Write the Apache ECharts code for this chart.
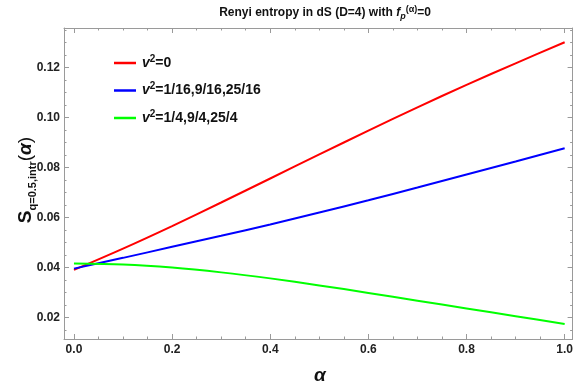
<!DOCTYPE html>
<html><head><meta charset="utf-8">
<script src="https://cdn.jsdelivr.net/npm/echarts@6/dist/echarts.min.js"></script>
<style>html,body{margin:0;padding:0;background:#fff}#c{width:576px;height:391px}</style>
</head><body><div id="c"></div>
<script>
// ---- data ----
const alpha = [0, 0.1, 0.2, 0.3, 0.4, 0.5, 0.6, 0.7, 0.8, 0.9, 1.0];
const redVals   = [0.0391, 0.0476, 0.0566, 0.0660, 0.0756, 0.0852, 0.0947, 0.1040, 0.1130, 0.1216, 0.1300];
const blueVals  = [0.0396, 0.0439, 0.0483, 0.0527, 0.0572, 0.0620, 0.0669, 0.0720, 0.0772, 0.0824, 0.0877];
const greenVals = [0.0416, 0.0412, 0.0400, 0.0381, 0.0357, 0.0329, 0.0299, 0.0268, 0.0237, 0.0206, 0.0175];
const seriesNames = ['v2=0', 'v2=1/16,9/16,25/16', 'v2=1/4,9/4,25/4'];
const legendRest = {'v2=0': '=0', 'v2=1/16,9/16,25/16': '=1/16,9/16,25/16', 'v2=1/4,9/4,25/4': '=1/4,9/4,25/4'};
const xMajor = [0, 0.2, 0.4, 0.6, 0.8, 1.0];
const xMinor = [0.05, 0.1, 0.15, 0.25, 0.3, 0.35, 0.45, 0.5, 0.55, 0.65, 0.7, 0.75, 0.85, 0.9, 0.95];
const yMajor = [0.02, 0.04, 0.06, 0.08, 0.10, 0.12];
const yMinor = [0.015, 0.025, 0.03, 0.035, 0.045, 0.05, 0.055, 0.065, 0.07, 0.075, 0.085, 0.09, 0.095, 0.105, 0.11, 0.115, 0.125, 0.13, 0.135];

const xMin = -0.0203, xMax = 1.0162, yMin = 0.01149, yMax = 0.1357;
const FONT = '"Liberation Sans", Arial, sans-serif';
const frameColor = '#9a9a9a';

function pairs(ys) { return alpha.map((a, i) => [a, ys[i]]); }

function xAx(pos, ticks, len, showLine, labels) {
  return {
    type: 'value', position: pos, min: xMin, max: xMax,
    axisLine: {show: showLine, onZero: false, lineStyle: {color: frameColor, width: 1}},
    axisTick: {show: true, inside: true, length: len, customValues: ticks, lineStyle: {color: frameColor}},
    axisLabel: labels ? {show: true, customValues: ticks, margin: 5, color: '#222', fontSize: 12, fontWeight: 'bold', fontFamily: FONT,
      formatter: v => v.toFixed(1)} : {show: false},
    splitLine: {show: false}
  };
}
function yAx(pos, ticks, len, showLine, labels) {
  return {
    type: 'value', position: pos, min: yMin, max: yMax,
    axisLine: {show: showLine, onZero: false, lineStyle: {color: frameColor, width: 1}},
    axisTick: {show: true, inside: true, length: len, customValues: ticks, lineStyle: {color: frameColor}},
    axisLabel: labels ? {show: true, customValues: ticks, margin: 4, color: '#222', fontSize: 12, fontWeight: 'bold', fontFamily: FONT,
      formatter: v => v.toFixed(2)} : {show: false},
    splitLine: {show: false}
  };
}

const chart = echarts.init(document.getElementById('c'), null, {renderer: 'canvas'});
const legendRich = {
  v: {fontStyle: 'italic', fontWeight: 'bold', fontSize: 14, fontFamily: FONT, color: '#111', lineHeight: 18},
  sup: {fontWeight: 'bold', fontSize: 10, fontFamily: FONT, color: '#111', verticalAlign: 'top', lineHeight: 18, padding: [0, 0, 6, 0]},
  t: {fontWeight: 'bold', fontSize: 14, fontFamily: FONT, color: '#111', lineHeight: 18}
};
chart.setOption({
  animation: false,
  backgroundColor: '#fff',
  title: {
    text: '{a|Renyi entropy in dS (D=4) with }{f|f}{sub|p}{sup|(α)}{a|=0}',
    left: 320, top: 0, textAlign: 'center',
    textStyle: {
      rich: {
        a: {fontSize: 12, fontWeight: 'bold', fontFamily: FONT, color: '#111', lineHeight: 16},
        f: {fontSize: 12, fontWeight: 'bold', fontStyle: 'italic', fontFamily: FONT, color: '#111', lineHeight: 16},
        sub: {fontSize: 9, fontWeight: 'bold', fontStyle: 'italic', fontFamily: FONT, color: '#111', verticalAlign: 'bottom', lineHeight: 10, padding: [6, 0, 0, 0]},
        sup: {fontSize: 9, fontWeight: 'bold', fontFamily: FONT, color: '#111', verticalAlign: 'top', lineHeight: 10, padding: [0, 0, 6, 0]}
      }
    }
  },
  grid: {left: 64, right: 1, top: 28, bottom: 52, containLabel: false},
  xAxis: [
    xAx('bottom', xMajor, 5, true, true),
    xAx('bottom', xMinor, 2.5, false, false),
    xAx('top', xMajor, 5, true, false),
    xAx('top', xMinor, 2.5, false, false)
  ],
  yAxis: [
    yAx('left', yMajor, 5, true, true),
    yAx('left', yMinor, 2.5, false, false),
    yAx('right', yMajor, 5, true, false),
    yAx('right', yMinor, 2.5, false, false)
  ],
  legend: {
    orient: 'vertical', left: 109, top: 49, itemWidth: 22, itemHeight: 2.5, itemGap: 11.5,
    icon: 'rect',
    data: seriesNames,
    formatter: name => '{v|v}{sup|2}{t|' + legendRest[name] + '}',
    textStyle: {padding: [0, 0, 0, 1], rich: legendRich}
  },
  graphic: [
    {type: 'text', x: 26, y: 180, rotation: Math.PI / 2,
     style: {
       text: '{s|S}{sub|q=0.5,intr}{p|(}{al|α}{p|)}',
       align: 'center', verticalAlign: 'middle',
       rich: {
         s: {fontSize: 19, fontWeight: 'bold', fontFamily: FONT, fill: '#111', lineHeight: 24},
         sub: {fontSize: 11, fontWeight: 'bold', fontFamily: FONT, fill: '#111', verticalAlign: 'bottom', lineHeight: 12, padding: [8, 0, 0, 0]},
         p: {fontSize: 19, fontFamily: FONT, fill: '#111', lineHeight: 24},
         al: {fontSize: 19, fontWeight: 'bold', fontStyle: 'italic', fontFamily: FONT, fill: '#111', lineHeight: 24}
       }
     }},
    {type: 'text', x: 320, y: 376,
     style: {text: 'α', align: 'center', verticalAlign: 'middle', fontSize: 19, fontWeight: 'bold', fontStyle: 'italic', fontFamily: FONT, fill: '#111'}}
  ],
  series: [
    {name: seriesNames[0], type: 'line', data: pairs(redVals), smooth: 0.3, showSymbol: false, color: '#ff0000', lineStyle: {width: 2}, xAxisIndex: 0, yAxisIndex: 0},
    {name: seriesNames[1], type: 'line', data: pairs(blueVals), smooth: 0.3, showSymbol: false, color: '#0000ff', lineStyle: {width: 2}, xAxisIndex: 0, yAxisIndex: 0},
    {name: seriesNames[2], type: 'line', data: pairs(greenVals), smooth: 0.3, showSymbol: false, color: '#00ff00', lineStyle: {width: 2}, xAxisIndex: 0, yAxisIndex: 0}
  ]
});
</script>
</body></html>
